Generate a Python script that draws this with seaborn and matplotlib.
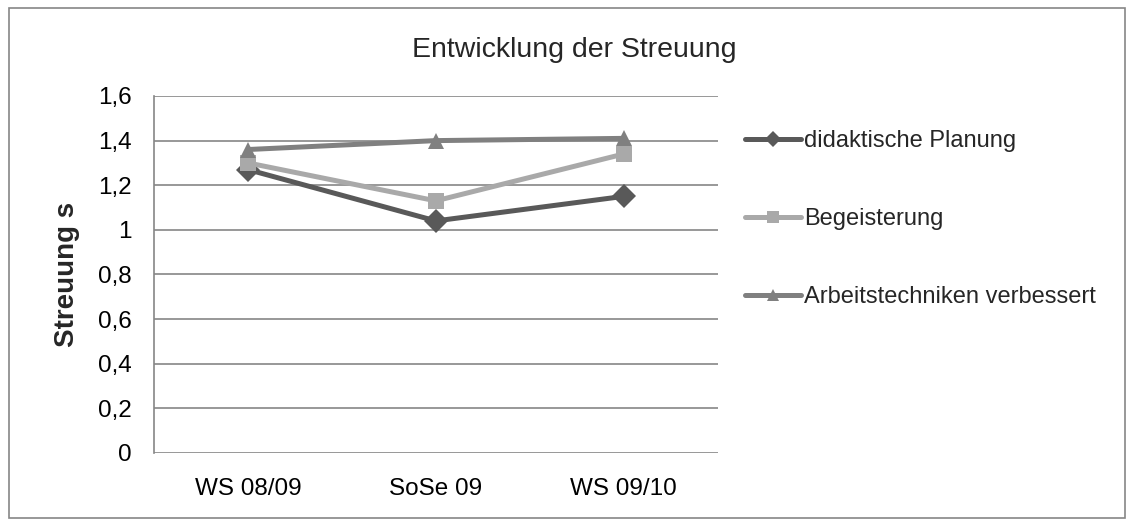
import numpy as np
import pandas as pd
import seaborn as sb
import matplotlib.pyplot as plt
from matplotlib.patches import Rectangle
from matplotlib.ticker import FuncFormatter

semester = ['WS 08/09', 'SoSe 09', 'WS 09/10']
didaktik = [1.27, 1.04, 1.15]
begeisterung = [1.30, 1.13, 1.34]
arbeitstechnik = [1.36, 1.40, 1.41]
series = ['didaktische Planung', 'Begeisterung', 'Arbeitstechniken verbessert']


def get_data():
    rows = []
    for name, vals in zip(series, [didaktik, begeisterung, arbeitstechnik]):
        for sem, v in zip(semester, vals):
            rows.append({'Semester': sem, 'Streuung': v, 'Serie': name})
    return pd.DataFrame(rows)


def plot():
    sb.set_style('white')
    plt.rcParams['font.family'] = ['Liberation Sans', 'DejaVu Sans']

    data = get_data()
    colors = ['#595959', '#a9a9a9', '#808080']

    fig = plt.figure(figsize=(11.32, 5.26), dpi=100)
    ax = fig.add_axes([0.136, 0.139, 0.498, 0.6785])

    ax = sb.lineplot(  x='Semester'
                     , y='Streuung'
                     , hue='Serie'
                     , style='Serie'
                     , data=data
                     , palette=colors
                     , markers=['D', 's', '^']
                     , dashes=False
                     , linewidth=3.6
                     , markersize=12
                     , markeredgewidth=0
                     , ax=ax
                     , legend=True
                    )

    ax.set_xlim(-0.5, 2.5)
    ax.set_ylim(0, 1.6)
    ax.set_yticks(np.arange(0, 1.61, 0.2))
    ax.yaxis.set_major_formatter(FuncFormatter(lambda v, p: f'{v:g}'.replace('.', ',')))
    ax.yaxis.grid(True, color='#868686', linewidth=1.2)
    ax.set_axisbelow(True)
    ax.tick_params(axis='both', labelsize=17.5, length=0, colors='black')
    ax.tick_params(axis='y', pad=16)
    ax.tick_params(axis='x', pad=18)

    for side in ['top', 'right', 'bottom']:
        ax.spines[side].set_visible(False)
    ax.spines['left'].set_color('#868686')
    ax.spines['left'].set_linewidth(1.2)

    ax.set_xlabel('')
    ax.set_ylabel('Streuung s', fontsize=20, fontweight='bold', labelpad=13)

    fig.suptitle('Entwicklung der Streuung', fontsize=20.5, y=0.93, x=0.5075)

    handles, labels = ax.get_legend_handles_labels()
    ax.legend(  handles
              , labels
              , loc='upper left'
              , bbox_to_anchor=(1.048, 0.905)
              , frameon=False
              , fontsize=17
              , labelspacing=2.38
              , handlelength=2.4
              , handletextpad=0.1
              , borderaxespad=0
              , borderpad=0
              , markerscale=0.7
             )

    fig.patches.append(Rectangle((0.008, 0.016), 0.986, 0.969, transform=fig.transFigure,
                                 fill=False, edgecolor='#868686', linewidth=1.2))

    plt.savefig('out.png', dpi=100)


if __name__ == "__main__":
    plot()
